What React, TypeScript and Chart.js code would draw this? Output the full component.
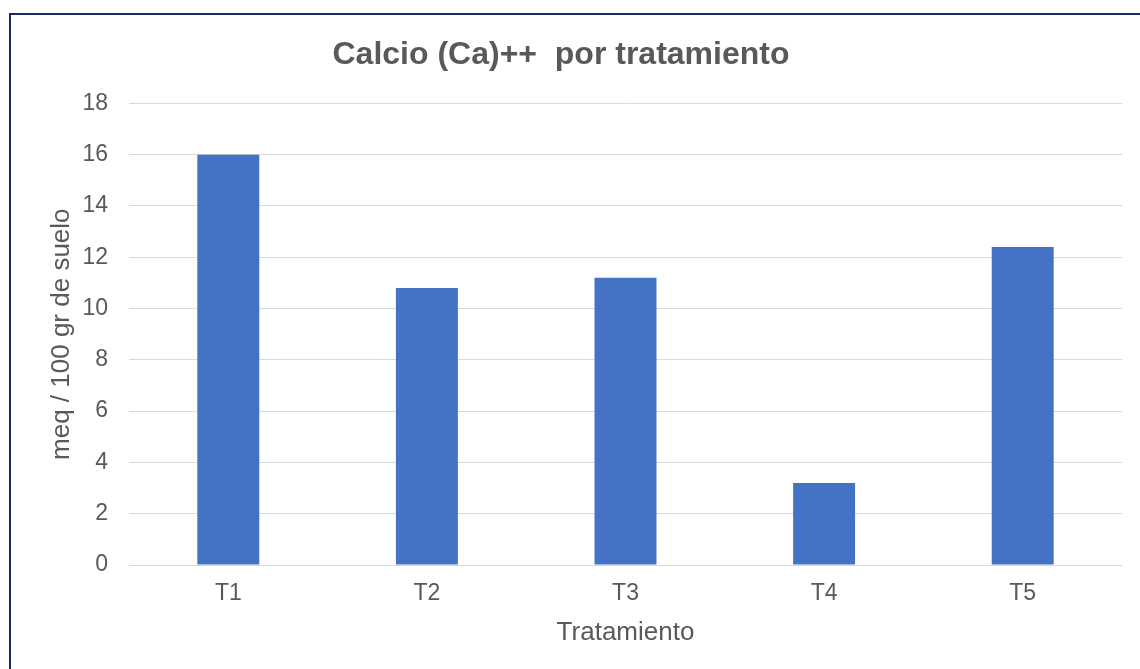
import React, { useEffect, useRef } from "react";
import { Chart, registerables } from "chart.js";

Chart.register(...registerables);

const categories = ["T1", "T2", "T3", "T4", "T5"];
const calcioValues = [16, 10.8, 11.2, 3.2, 12.4];
const yTicks = [0, 2, 4, 6, 8, 10, 12, 14, 16, 18];

const FONT = "'Liberation Sans', Arial, sans-serif";
const GRAY = "#595959";

const borderPlugin = {
  id: "outerBorder",
  afterDraw(chart: any) {
    const ctx = chart.ctx;
    ctx.save();
    ctx.strokeStyle = "#172B65";
    ctx.lineWidth = 2;
    ctx.strokeRect(10, 14, 1300, 800);
    ctx.restore();
  },
};

export default function App() {
  const canvasRef = useRef<HTMLCanvasElement | null>(null);

  useEffect(() => {
    if (!canvasRef.current) return;
    const chart = new Chart(canvasRef.current, {
      type: "bar",
      data: {
        labels: categories,
        datasets: [
          {
            label: "Calcio",
            data: calcioValues,
            backgroundColor: "#4472C4",
            borderWidth: 0,
            barPercentage: 0.312,
            categoryPercentage: 1,
          },
        ],
      },
      options: {
        animation: false,
        responsive: true,
        maintainAspectRatio: false,
        layout: { padding: { left: 0, right: 18, top: 0, bottom: 0 } },
        plugins: {
          legend: { display: false },
          tooltip: { enabled: false },
          title: {
            display: true,
            text: "Calcio (Ca)++  por tratamiento",
            color: GRAY,
            font: { family: FONT, size: 32, weight: "bold", lineHeight: 1.2 },
            padding: { top: 36, bottom: 29 },
          },
        },
        scales: {
          x: {
            grid: { display: false, drawTicks: false },
            border: { display: false },
            ticks: {
              color: GRAY,
              font: { family: FONT, size: 23, lineHeight: 1.2 },
              padding: 15,
            },
            title: {
              display: true,
              text: "Tratamiento",
              color: GRAY,
              font: { family: FONT, size: 26, lineHeight: 1.2 },
              padding: { top: 0, bottom: 21 },
            },
            afterFit(scale: any) {
              scale.height = 104;
            },
          },
          y: {
            min: 0,
            max: 18,
            afterBuildTicks(scale: any) {
              scale.ticks = yTicks.map((v) => ({ value: v }));
            },
            grid: { color: "#D9D9D9", lineWidth: 1, drawTicks: false },
            border: { display: false },
            ticks: {
              color: GRAY,
              font: { family: FONT, size: 23, lineHeight: 1.2 },
              padding: 21,
            },
            title: {
              display: true,
              text: "meq / 100 gr de suelo",
              color: GRAY,
              font: { family: FONT, size: 26, lineHeight: 1.2 },
              padding: { top: 46, bottom: 0 },
            },
            afterFit(scale: any) {
              scale.width = 129;
            },
          },
        },
      },
      plugins: [borderPlugin],
    });
    return () => chart.destroy();
  }, []);

  return (
    <div
      style={{
        position: "fixed",
        left: 0,
        top: 0,
        width: 1140,
        height: 669,
        background: "#ffffff",
      }}
    >
      <canvas ref={canvasRef} />
    </div>
  );
}
